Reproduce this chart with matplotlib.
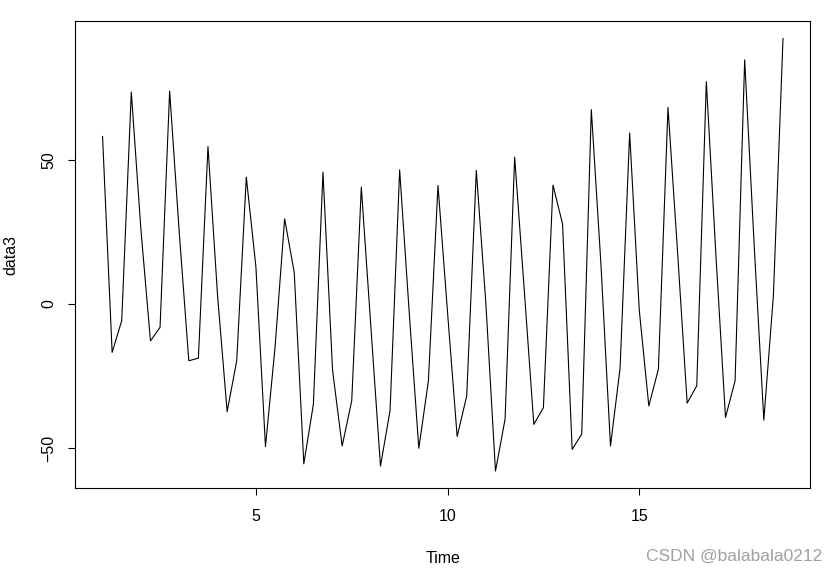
import numpy as np
import matplotlib
matplotlib.use('Agg')
import matplotlib.pyplot as plt

# Quarterly series, starts at time 1 (frequency 4)
start = 1.0
freq = 4
data3 = [
    58.2, -16.8, -5.8, 73.6,
    26.0, -12.8, -8.1, 74.0,
    25.0, -19.7, -18.8, 54.7,
    3.0, -37.4, -19.7, 44.1,
    13.0, -49.5, -15.0, 29.6,
    11.0, -55.5, -34.8, 45.8,
    -23.0, -49.3, -33.6, 40.6,
    -8.0, -56.3, -37.0, 46.6,
    -3.0, -50.1, -26.7, 41.2,
    -3.0, -46.0, -31.9, 46.4,
    0.0, -58.0, -40.0, 51.0,
    5.0, -41.8, -36.0, 41.3,
    27.8, -50.5, -45.2, 67.5,
    14.0, -49.3, -22.3, 59.4,
    -2.0, -35.4, -22.6, 68.3,
    18.0, -34.4, -28.4, 77.2,
    17.0, -39.4, -26.7, 84.8,
    20.0, -40.3, 3.0, 92.2,
]
times = start + np.arange(len(data3)) / freq

plt.rcParams['font.family'] = ['Liberation Sans', 'DejaVu Sans']

fig = plt.figure(figsize=(8.37, 5.71), dpi=100)
ax = fig.add_axes([0.090, 0.1448, 0.878, 0.8179])
ax.plot(times, data3, color='black', linewidth=0.8)
ax.margins(x=0.04, y=0.04)

ax.set_xticks([5, 10, 15])
ax.set_yticks([-50, 0, 50])
ax.tick_params(axis='both', direction='out', length=5, width=0.8,
               labelsize=11.5, colors='black')
ax.tick_params(axis='x', pad=10)
ax.tick_params(axis='y', pad=9)
for lbl in ax.get_yticklabels():
    lbl.set_rotation(90)
    lbl.set_va('center')
for sp in ax.spines.values():
    sp.set_linewidth(0.8)

ax.set_xlabel('Time', fontsize=11.5, labelpad=19)
ax.set_ylabel('data3', fontsize=11.5, labelpad=16)

fig.text(0.982, 0.025, 'CSDN @balabala0212', ha='right', va='center',
         fontsize=12.5, color='#a0a0a0')

fig.savefig('out.png', dpi=100)
